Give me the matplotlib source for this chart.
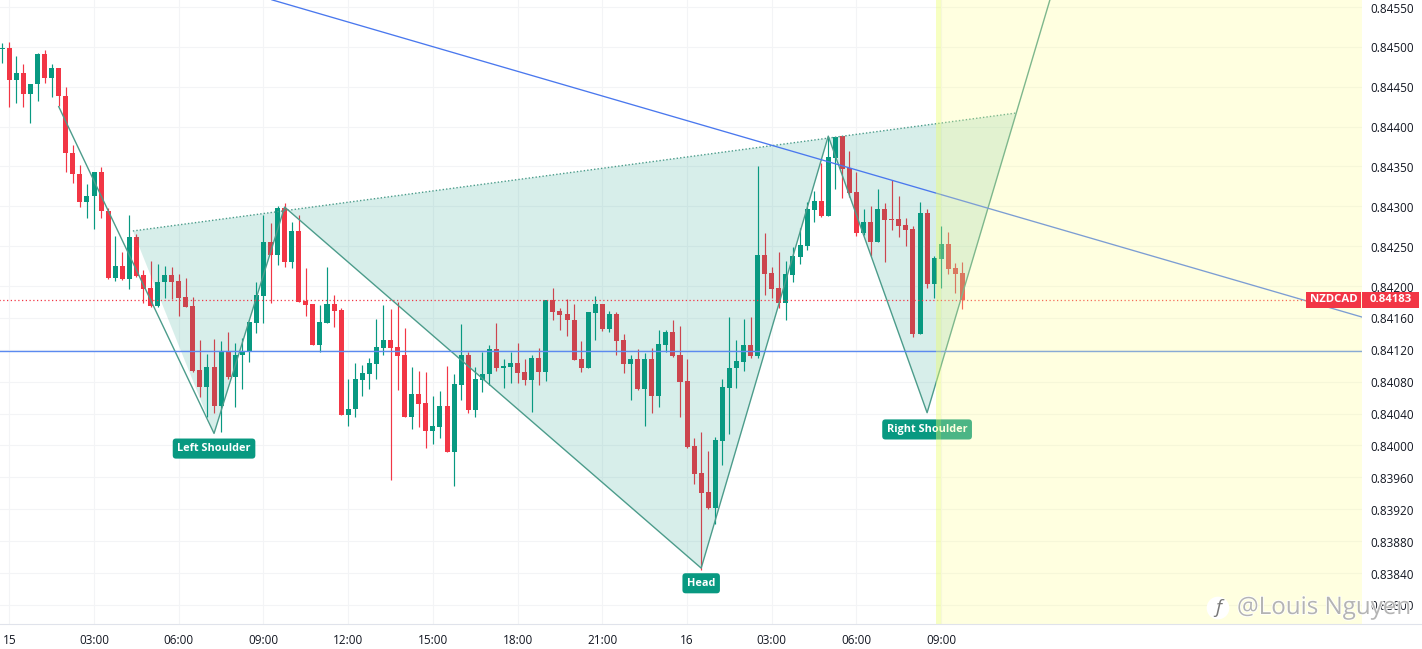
import matplotlib
matplotlib.use("Agg")
import matplotlib.pyplot as plt
import matplotlib.patheffects as pe
from matplotlib.transforms import ScaledTranslation
import numpy as np

# first entry is bar index -1 (last bar of the 14th); prices in 1e-5 units
opens = [84497,84499,84459,84467,84441,84453,84491,84461,84474,84438,
84367,84340,84305,84313,84343,84294,84210,84225,84209,84261,
84214,84197,84175,84205,84214,84206,84186,84175,84095,84073,
84098,84049,84118,84086,84113,84118,84154,84187,84255,84239,
84298,84230,84269,84181,84177,84126,84153,84177,84170,84038,
84046,84082,84090,84102,84122,84132,84123,84113,84036,84064,
84053,84018,84023,84049,83992,84076,84113,84044,84082,84090,
84121,84097,84098,84103,84092,84082,84110,84092,84182,84169,
84165,84157,84108,84097,84166,84177,84146,84165,84132,84102,
84108,84071,84108,84062,84126,84142,84113,84081,83999,83965,
83941,83921,84006,84072,84097,84105,84126,84112,84239,84216,
84197,84179,84214,84236,84250,84295,84307,84288,84361,84388,
84348,84318,84266,84280,84255,84297,84284,84284,84276,84272,
84140,84291,84202,84234,84253,84222,84216]
highs = [84505,84506,84489,84479,84453,84492,84496,84479,84474,84450,
84377,84352,84328,84343,84349,84298,84263,84243,84289,84265,
84220,84231,84228,84225,84224,84215,84210,84186,84132,84115,
84133,84131,84142,84128,84135,84155,84205,84289,84279,84300,
84304,84280,84289,84223,84177,84176,84224,84189,84172,84083,
84103,84101,84110,84159,84176,84171,84180,84147,84098,84093,
84092,84062,84068,84100,84089,84152,84117,84098,84117,84126,
84153,84108,84117,84128,84108,84113,84122,84182,84197,84172,
84184,84177,84131,84167,84187,84177,84169,84167,84140,84113,
84121,84116,84122,84145,84145,84157,84150,84108,84009,84017,
83993,84011,84083,84161,84132,84159,84161,84351,84266,84224,
84243,84231,84249,84273,84305,84319,84354,84387,84387,84388,
84369,84343,84297,84300,84322,84304,84333,84313,84285,84275,
84305,84297,84238,84275,84268,84229,84230]
lows = [84480,84425,84429,84425,84404,84432,84455,84437,84426,84343,
84329,84299,84285,84271,84285,84209,84206,84207,84196,84211,
84179,84174,84174,84185,84184,84162,84174,84092,84061,84036,
84041,84017,84083,84048,84071,84105,84141,84154,84179,84226,
84224,84223,84180,84162,84126,84117,84153,84149,84038,84024,
84036,84062,84071,84083,84113,83957,84069,84036,84021,84023,
83997,84002,84009,83992,83949,84057,84041,84036,84067,84076,
84093,84072,84078,84078,84076,84042,84076,84081,84157,84145,
84137,84107,84092,84097,84132,84143,84142,84113,84091,84057,
84069,84024,84041,84048,84117,84111,84036,83997,83952,83844,
83920,83901,83975,84014,84072,84093,84110,84110,84189,84185,
84172,84157,84205,84228,84245,84280,84287,84288,84322,84310,
84312,84263,84264,84238,84255,84230,84270,84261,84250,84136,
84140,84197,84185,84197,84215,84191,84171]
closes = [84499,84459,84467,84441,84453,84491,84461,84474,84438,84367,
84340,84305,84313,84343,84294,84210,84225,84209,84261,84212,
84196,84175,84205,84214,84205,84185,84174,84093,84073,84098,
84049,84118,84086,84113,84118,84155,84189,84255,84239,84298,
84230,84269,84180,84176,84126,84155,84177,84169,84038,84046,
84083,84091,84103,84123,84132,84122,84112,84036,84064,84052,
84018,84024,84049,83992,84077,84113,84044,84083,84090,84121,
84097,84100,84103,84091,84082,84110,84092,84182,84167,84164,
84157,84107,84097,84167,84177,84146,84165,84131,84102,84108,
84071,84108,84062,84127,84142,84112,84079,83998,83964,83940,
83921,84007,84073,84097,84106,84126,84112,84239,84215,84196,
84179,84215,84238,84251,84297,84307,84288,84362,84387,84347,
84317,84266,84280,84255,84297,84283,84283,84275,84270,84140,
84291,84202,84235,84253,84221,84215,84183]
first_bar = -1

price_ticks = [84550,84500,84450,84400,84350,84300,84250,84200,84160,84120,84080,84040,84000,83960,83920,83880,83840,83800]
time_bars = [0,12,24,36,48,60,72,84,96,108,120,132]
time_labels = ["15","03:00","06:00","09:00","12:00","15:00","18:00","21:00","16","03:00","06:00","09:00"]

pattern_bars = [7,29,39,98,116,130,147.7]
pattern_prices = [84425,84015,84299,83846,84388,84041,84568]
fill_bars = [17.5,29,39,98,116,130,142.6]
fill_prices = [84269,84015,84299,83846,84388,84041,84417]
neck_bars = [17.5,142.6]
neck_prices = [84269,84417]
trend_bars = [37.2,191.6]
trend_prices = [84559,84161]
support_price = 84118
last_price = 84183
labels = [("Left Shoulder",29,83996),("Head",98,83827),("Right Shoulder",130,84020)]

RED, GREEN = "#f23645", "#089981"
W, H = 1422, 649
plt.rcParams['font.family'] = ['Open Sans', 'DejaVu Sans']
fig = plt.figure(figsize=(W/100, H/100), dpi=100)
ax = fig.add_axes([0, 25/H, 1362/W, 624/H])
S, X0 = 7.06, 9.3
ax.set_xlim(-X0/S, (1362-X0)/S)
ax.set_ylim(0.837759, 0.845588)
e = 1e-5
for s in ax.spines.values():
    s.set_visible(False)
ax.set_yticks([p*e for p in price_ticks])
ax.set_yticklabels([f"{p*e:.5f}" for p in price_ticks], fontsize=8.5, color="#131722")
ax.yaxis.tick_right()
ax.set_xticks(time_bars)
ax.set_xticklabels(time_labels, fontsize=8.5, color="#131722")
ax.tick_params(length=0, pad=6.3, axis='y')
ax.tick_params(length=0, pad=7.5, axis='x')
shift = ScaledTranslation(0, -0.6/100, fig.dpi_scale_trans)
for lab in ax.get_yticklabels():
    lab.set_transform(lab.get_transform() + shift)
ax.grid(True, color="#f3f4f6", lw=0.8)
ax.set_axisbelow(True)
fig.add_artist(plt.Line2D([0,1],[25/H,25/H],color="#e0e3eb",lw=0.8))

idx = np.arange(len(opens))+first_bar
o,h,l,c = [np.array(a)*e for a in (opens,highs,lows,closes)]
cols = [GREEN if cc>=oo else RED for oo,cc in zip(o,c)]
ax.vlines(idx, l, h, colors=cols, lw=0.85, zorder=3)
ax.bar(idx, np.maximum(np.abs(c-o),0.8e-5), bottom=np.minimum(o,c), width=0.71, color=cols, lw=0, zorder=3.1)

ax.fill(fill_bars, [p*e for p in fill_prices], color=GREEN, alpha=0.16, lw=0, zorder=4)
ax.plot(pattern_bars, [p*e for p in pattern_prices], color="#4c9c8b", lw=1.0, zorder=4.1)
ax.plot(neck_bars, [p*e for p in neck_prices], color="#4c9c8b", lw=1.0, ls=(0,(1,1.5)), zorder=4.1)
ax.plot(trend_bars, [p*e for p in trend_prices], color="#4a78ee", lw=0.95, zorder=4.2)
ax.plot([-2,192], [support_price*e+0.2e-5]*2, color="#5b8af0", lw=1.0, zorder=4.2)
ax.plot([-2,184], [last_price*e]*2, color=RED, lw=0.9, ls=(0,(1,2)), zorder=4.2)

for t,b,p in labels:
    ax.text(b,p*e,t,color="white",fontsize=7.8,fontweight="bold",ha="center",va="center",zorder=5,
            bbox=dict(boxstyle="round,pad=0.42,rounding_size=0.3",fc=GREEN,ec="none"))

# forecast zone
zs, ze = 131.3, ax.get_xlim()[1]
ax.axvspan(zs, ze, color=(1,1,144/255), alpha=0.28, lw=0, zorder=6)
ax.axvspan(zs, 131.9, color=(0.85,1,0.3), alpha=0.2, lw=0, zorder=6.1)

# price labels
def box(x0,x1,txt):
    fig.patches.append(plt.Rectangle((x0/W,(H-308)/H),(x1-x0)/W,16/H,transform=fig.transFigure,fc=RED,ec="none"))
    fig.text((x0+x1)/2/W,(H-300)/H,txt,color="white",fontsize=8.2,fontweight="bold",ha="center",va="center",zorder=10)
box(1306,1361,"NZDCAD")
box(1362,1419,f"{last_price*e:.5f}")

# watermark
wm = [pe.withStroke(linewidth=1.2,foreground="white")]
fig.text(1237/W,(H-608)/H,"@Louis Nguyen",fontsize=17.4,color="#b4b4b4",va="center",ha="left",path_effects=wm,zorder=11)
fig.text(1218/W,(H-608)/H,"f",fontsize=14,style="italic",color="#777777",va="center",ha="center",zorder=11,
         bbox=dict(boxstyle="circle,pad=0.12",fc="white",ec="none"))
fig.savefig("out.png",dpi=100)
